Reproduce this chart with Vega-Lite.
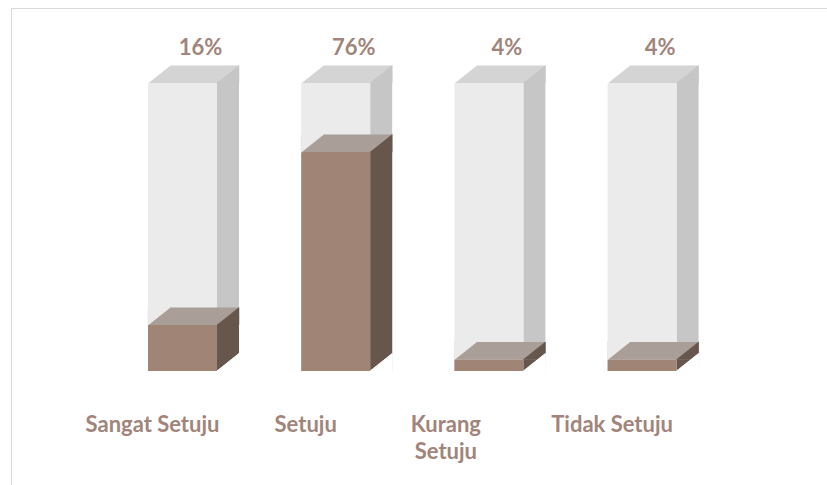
{
  "$schema": "https://vega.github.io/schema/vega-lite/v6.json",
  "autosize": "none",
  "width": 817,
  "height": 482,
  "padding": {"left": 11, "top": 8, "right": 0, "bottom": 0},
  "background": "white",
  "config": {"view": {"stroke": "#d9d9d9", "strokeWidth": 1}},
  "data": {"values": [
    {"cat": "Sangat Setuju", "value": 16, "label": "16%"},
    {"cat": "Setuju", "value": 76, "label": "76%"},
    {"cat": "Kurang Setuju", "value": 4, "label": "4%"},
    {"cat": "Tidak Setuju", "value": 4, "label": "4%"}
  ]},
  "encoding": {
    "x": {
      "field": "cat", "type": "nominal", "sort": null, "title": null,
      "scale": {"paddingInner": 0.5496, "paddingOuter": 0.9413, "align": 0.475},
      "axis": {
        "domain": false, "ticks": false, "grid": false,
        "labelAngle": 0, "labelFont": "Lato", "labelFontWeight": "bold", "labelFontSize": 22,
        "labelColor": "#a1847a", "labelBaseline": "top", "labelLineHeight": 27,
        "labelExpr": "datum.label == 'Kurang Setuju' ? ['Kurang', 'Setuju'] : datum.label",
        "labelOffset": {"condition": {"test": "datum.label == 'Kurang Setuju'", "value": -43}, "value": -30},
        "offset": -80, "labelPadding": 4, "labelLimit": 300
      }
    }
  },
  "layer": [
    {
      "mark": {"type": "bar", "width": 22, "xOffset": 45.5, "color": "#c6c6c6"},
      "encoding": {
        "y": {"datum": 100, "type": "quantitative", "scale": {"domain": [-41.32, 126.04], "nice": false, "zero": false}, "axis": null},
        "y2": {"datum": 0}
      }
    },
    {
      "mark": {"type": "bar", "width": 91, "xOffset": 11, "yOffset": -17.5, "color": "#d4d4d4"},
      "encoding": {"y": {"datum": 100, "type": "quantitative"}, "y2": {"datum": 100}}
    },
    {
      "mark": {"type": "bar", "width": 69, "color": "#ebebeb"},
      "encoding": {"y": {"datum": 100, "type": "quantitative"}, "y2": {"datum": 0}}
    },
    {
      "mark": {"type": "point", "filled": true, "opacity": 1, "strokeWidth": 1, "size": 484, "color": "white", "stroke": "white", "xOffset": -23.5, "yOffset": -8.75, "shape": "M -1 -0.795 L 1 -0.795 L -1 0.795 Z"},
      "encoding": {"y": {"datum": 100, "type": "quantitative"}}
    },
    {
      "mark": {"type": "point", "filled": true, "opacity": 1, "strokeWidth": 0.5, "size": 484, "color": "#c6c6c6", "stroke": "#c6c6c6", "xOffset": 45.5, "yOffset": -8.75, "shape": "M -1 0.795 L 1 0.795 L 1 -0.795 Z"},
      "encoding": {"y": {"datum": 100, "type": "quantitative"}}
    },
    {
      "mark": {"type": "bar", "width": 22, "xOffset": 45.5, "color": "#66564b"},
      "encoding": {"y": {"field": "value", "type": "quantitative"}, "y2": {"datum": 0}}
    },
    {
      "mark": {"type": "bar", "width": 91, "xOffset": 11, "yOffset": -17.5, "color": "#a99e98"},
      "encoding": {"y": {"field": "value", "type": "quantitative"}, "y2": {"field": "value"}}
    },
    {
      "mark": {"type": "bar", "width": 69, "color": "#a08476"},
      "encoding": {"y": {"field": "value", "type": "quantitative"}, "y2": {"datum": 0}}
    },
    {
      "mark": {"type": "point", "filled": true, "opacity": 1, "strokeWidth": 1, "size": 484, "color": "#ebebeb", "stroke": "#ebebeb", "xOffset": -23.5, "yOffset": -8.75, "shape": "M -1 -0.795 L 1 -0.795 L -1 0.795 Z"},
      "encoding": {"y": {"field": "value", "type": "quantitative"}}
    },
    {
      "mark": {"type": "point", "filled": true, "opacity": 1, "strokeWidth": 0.5, "size": 484, "color": "#66564b", "stroke": "#66564b", "xOffset": 45.5, "yOffset": -8.75, "shape": "M -1 0.795 L 1 0.795 L 1 -0.795 Z"},
      "encoding": {"y": {"field": "value", "type": "quantitative"}}
    },
    {
      "mark": {"type": "point", "filled": true, "opacity": 1, "strokeWidth": 1, "size": 484, "color": "white", "stroke": "white", "xOffset": 45.5, "yOffset": -8.75, "shape": "M -1 0.795 L 1 0.795 L 1 -0.795 Z"},
      "encoding": {"y": {"datum": 0, "type": "quantitative"}}
    },
    {
      "mark": {"type": "text", "font": "Lato", "fontWeight": "bold", "fontSize": 22, "color": "#a1847a", "xOffset": 18, "yOffset": -34.5, "baseline": "middle", "align": "center"},
      "encoding": {"y": {"datum": 100, "type": "quantitative"}, "text": {"field": "label"}}
    }
  ]
}
